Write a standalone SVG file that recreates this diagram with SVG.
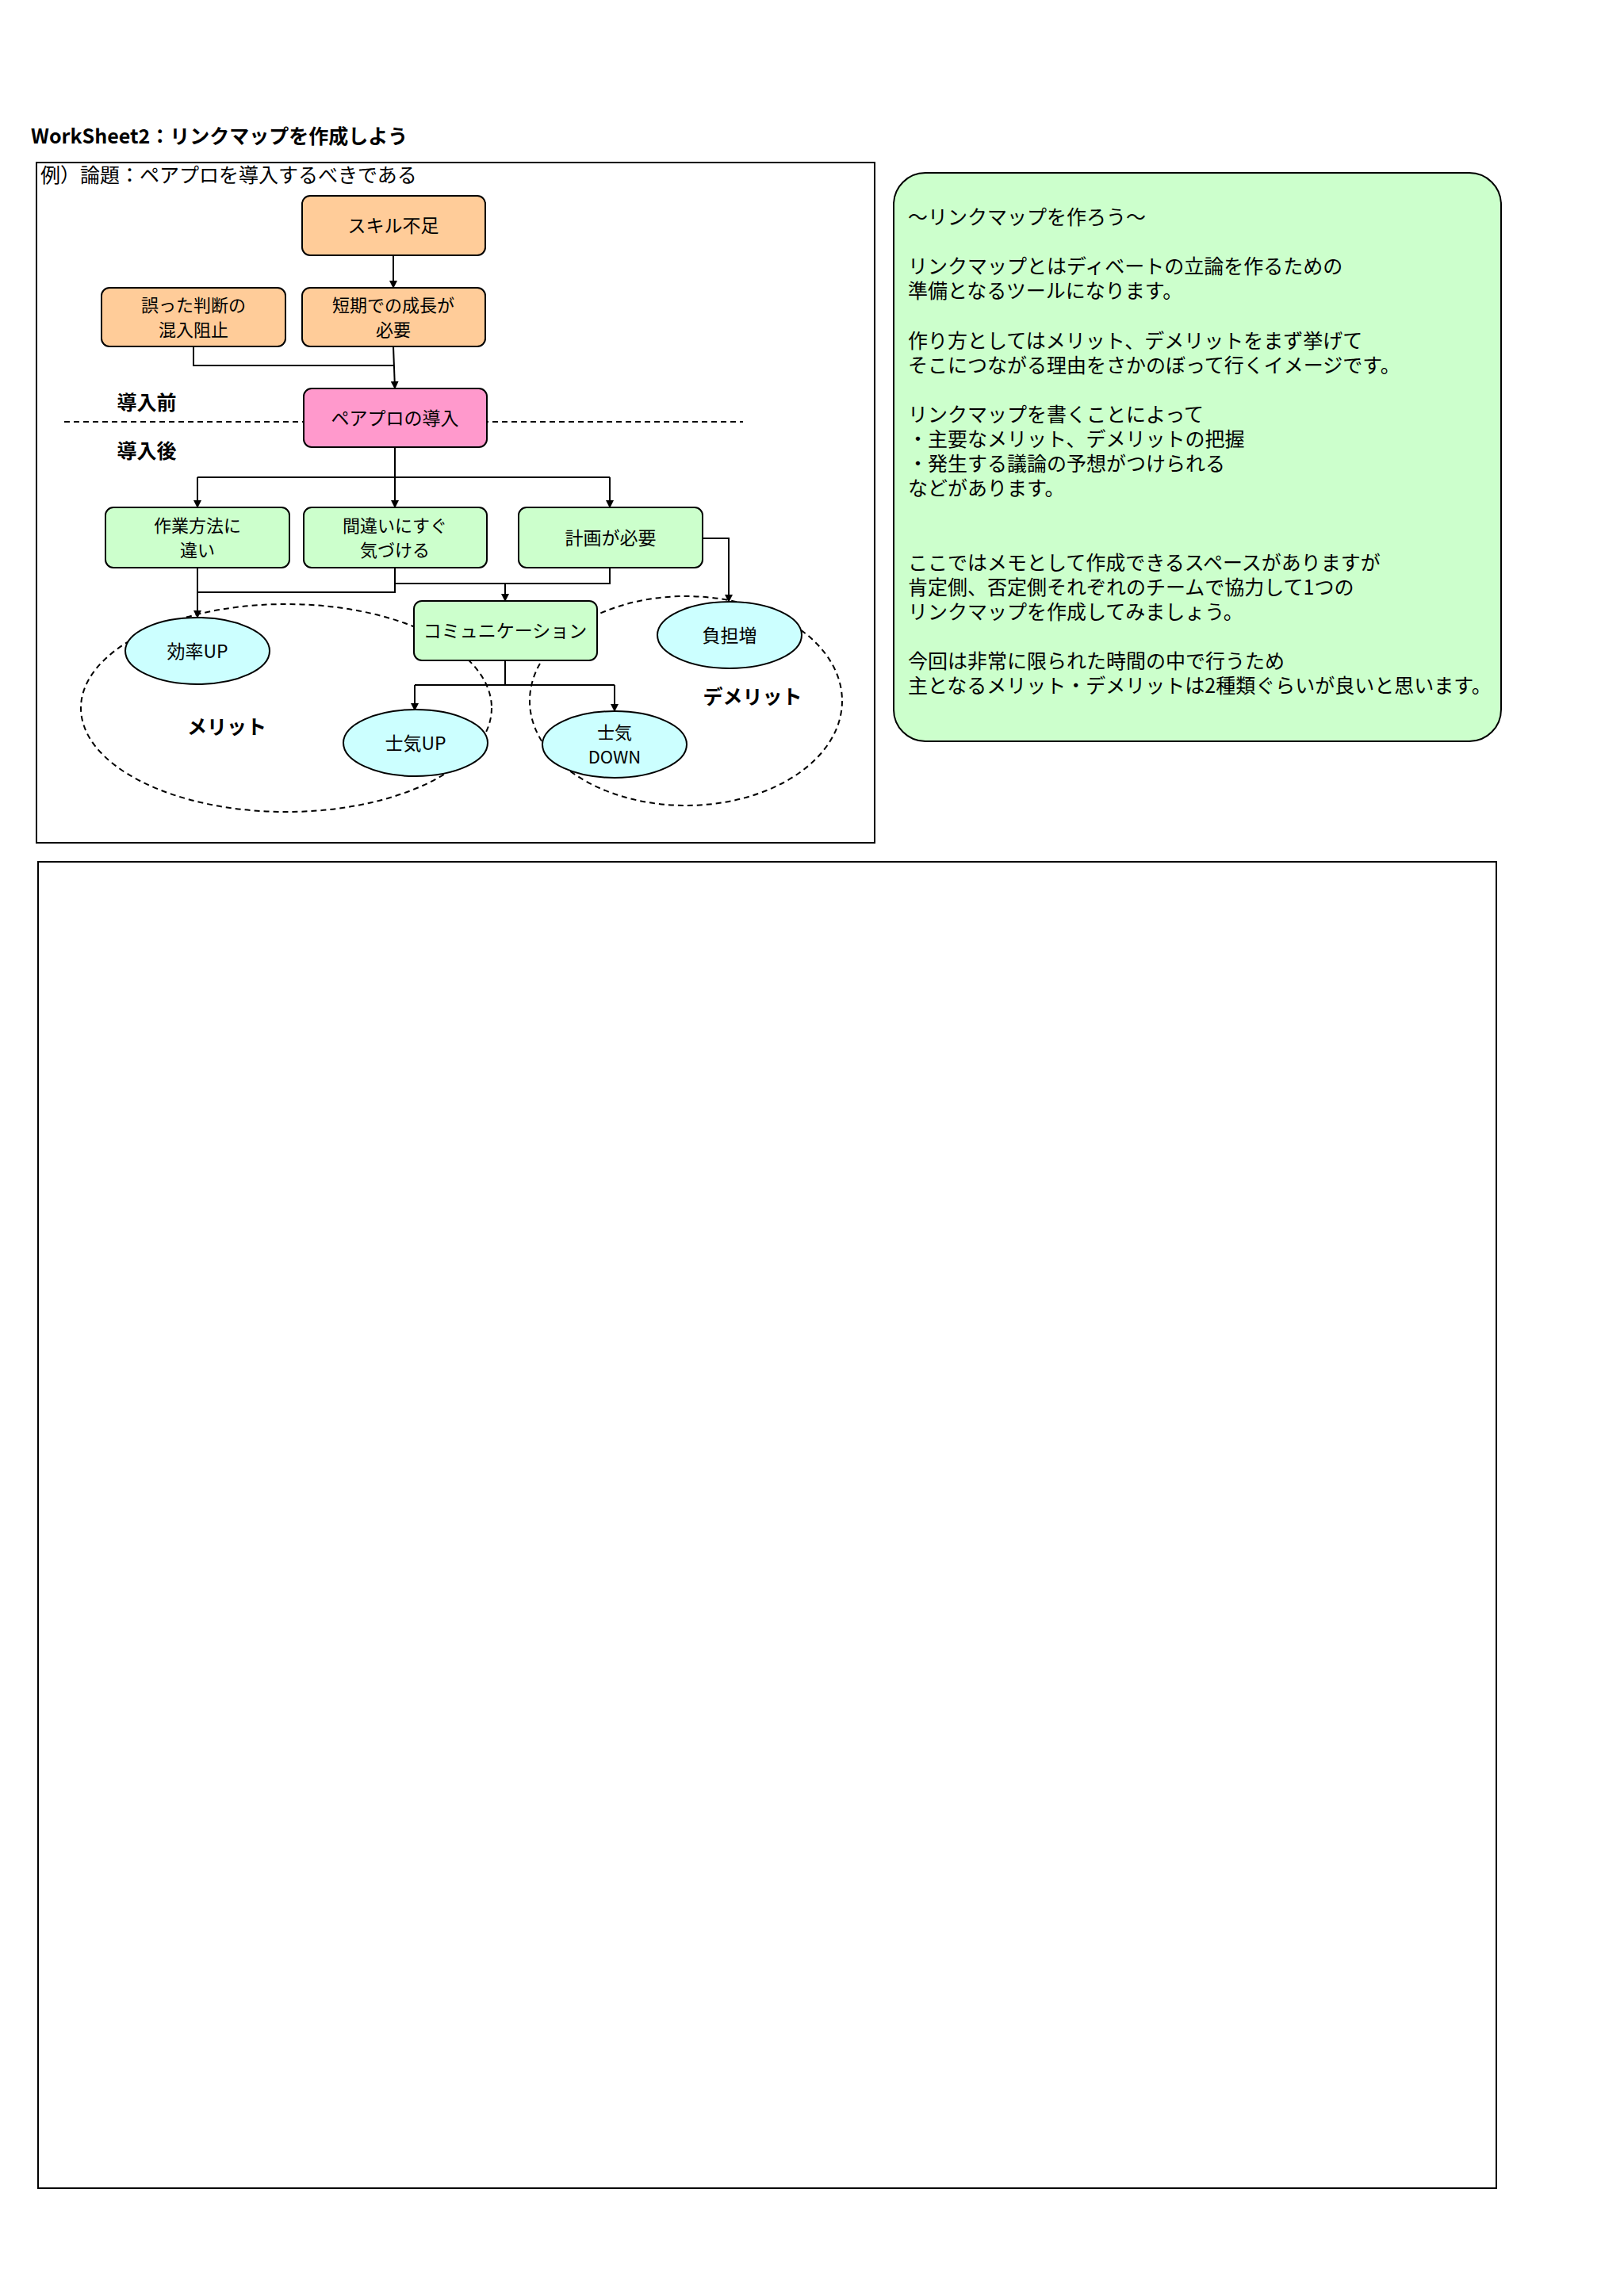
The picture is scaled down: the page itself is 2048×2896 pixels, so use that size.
<svg xmlns="http://www.w3.org/2000/svg" width="2048" height="2896" viewBox="0 0 2048 2896">
<defs>
<style>
text{font-family:"Noto Sans CJK JP","Liberation Sans",sans-serif;fill:#000}
.t{font-size:23px;text-anchor:middle}
.s{font-size:22px;text-anchor:middle}
.b{font-weight:bold}
.box{stroke:#000;stroke-width:2}
.org{fill:#FFCC99}
.grn{fill:#CCFFCC}
.cy{fill:#CCFFFF;stroke:#000;stroke-width:2}
.c{fill:none;stroke:#000;stroke-width:2}
.d{fill:none;stroke:#000;stroke-width:2;stroke-dasharray:7 5}
.m{font-size:25px}
</style>
<marker id="a" markerWidth="10" markerHeight="10" refX="9" refY="5" orient="auto" markerUnits="userSpaceOnUse" viewBox="0 0 10 10"><path d="M0,0L10,5L0,10z" fill="#000"/></marker>
</defs>
<rect width="2048" height="2896" fill="#fff"/>
<text x="39" y="181" font-size="25" class="b">WorkSheet2：リンクマップを作成しよう</text>
<rect x="46" y="205" width="1057" height="858" fill="none" stroke="#000" stroke-width="2"/>
<text x="51" y="230" font-size="25">例）論題：ペアプロを導入するべきである</text>
<g id="bg">
<ellipse cx="361" cy="893" rx="259" ry="131" class="d"/>
<ellipse cx="865" cy="884" rx="197" ry="132" class="d"/>
<line x1="81" y1="532" x2="937" y2="532" class="d"/>
</g>
<g id="connectors">
<path d="M496,322V363" class="c" marker-end="url(#a)"/>
<path d="M244,437V461H497" class="c"/>
<path d="M496,437L498,490" class="c" marker-end="url(#a)"/>
<path d="M498,564V602" class="c"/>
<path d="M249,602H769" class="c"/>
<path d="M249,602V640" class="c" marker-end="url(#a)"/>
<path d="M498,602V640" class="c" marker-end="url(#a)"/>
<path d="M769,602V640" class="c" marker-end="url(#a)"/>
<path d="M249,716V779" class="c" marker-end="url(#a)"/>
<path d="M498,716V747H249" class="c"/>
<path d="M498,736H769V716" class="c"/>
<path d="M637,736V758" class="c" marker-end="url(#a)"/>
<path d="M886,679H919V759" class="c" marker-end="url(#a)"/>
<path d="M637,833V864" class="c"/>
<path d="M523,864H775" class="c"/>
<path d="M523,864V896" class="c" marker-end="url(#a)"/>
<path d="M775,864V897" class="c" marker-end="url(#a)"/>
</g>
<g id="n1"><rect x="381" y="247" width="231" height="75" rx="10" class="box org"/><text x="496" y="293" class="t">スキル不足</text></g>
<g id="n2"><rect x="128" y="363" width="232" height="74" rx="10" class="box org"/><text x="244" y="393" class="s">誤った判断の</text><text x="244" y="424" class="s">混入阻止</text></g>
<g id="n3"><rect x="381" y="363" width="231" height="74" rx="10" class="box org"/><text x="496" y="393" class="s">短期での成長が</text><text x="496" y="424" class="s">必要</text></g>
<g id="n4"><rect x="383" y="490" width="231" height="74" rx="10" class="box" fill="#FF99CC"/><text x="498" y="536" class="t">ペアプロの導入</text></g>
<text x="185" y="517" font-size="25" class="b" text-anchor="middle">導入前</text>
<text x="185" y="578" font-size="25" class="b" text-anchor="middle">導入後</text>
<g id="n5"><rect x="133" y="640" width="232" height="76" rx="10" class="box grn"/><text x="249" y="671" class="s">作業方法に</text><text x="249" y="702" class="s">違い</text></g>
<g id="n6"><rect x="383" y="640" width="231" height="76" rx="10" class="box grn"/><text x="498" y="671" class="s">間違いにすぐ</text><text x="498" y="702" class="s">気づける</text></g>
<g id="n7"><rect x="654" y="640" width="232" height="76" rx="10" class="box grn"/><text x="770" y="687" class="t">計画が必要</text></g>
<g id="n8"><rect x="522" y="758" width="231" height="75" rx="10" class="box grn"/><text x="637" y="804" class="t">コミュニケーション</text></g>
<g id="e1"><ellipse cx="249" cy="821" rx="91" ry="42" class="cy"/><text x="249" y="830" class="t">効率UP</text></g>
<g id="e2"><ellipse cx="920" cy="801" rx="91" ry="42" class="cy"/><text x="920" y="810" class="t">負担増</text></g>
<g id="e3"><ellipse cx="524" cy="937" rx="91" ry="42" class="cy"/><text x="524" y="946" class="t">士気UP</text></g>
<g id="e4"><ellipse cx="775" cy="939" rx="91" ry="42" class="cy"/><text x="775" y="932" class="s">士気</text><text x="775" y="963" class="s">DOWN</text></g>
<text x="286" y="926" font-size="25" class="b" text-anchor="middle">メリット</text>
<text x="949" y="888" font-size="25" class="b" text-anchor="middle">デメリット</text>
<g id="note">
<rect x="1127" y="218" width="766" height="717" rx="40" fill="#CCFFCC" stroke="#000" stroke-width="2"/>
<text class="m" x="1145" y="283">～リンクマップを作ろう～</text>
<text class="m" x="1145" y="345">リンクマップとはディベートの立論を作るための</text>
<text class="m" x="1145" y="376">準備となるツールになります。</text>
<text class="m" x="1145" y="439">作り方としてはメリット、デメリットをまず挙げて</text>
<text class="m" x="1145" y="470">そこにつながる理由をさかのぼって行くイメージです。</text>
<text class="m" x="1145" y="532">リンクマップを書くことによって</text>
<text class="m" x="1145" y="563">・主要なメリット、デメリットの把握</text>
<text class="m" x="1145" y="594">・発生する議論の予想がつけられる</text>
<text class="m" x="1145" y="625">などがあります。</text>
<text class="m" x="1145" y="719">ここではメモとして作成できるスペースがありますが</text>
<text class="m" x="1145" y="750">肯定側、否定側それぞれのチームで協力して1つの</text>
<text class="m" x="1145" y="781">リンクマップを作成してみましょう。</text>
<text class="m" x="1145" y="843">今回は非常に限られた時間の中で行うため</text>
<text class="m" x="1145" y="874">主となるメリット・デメリットは2種類ぐらいが良いと思います。</text>
</g>
<rect id="memo" x="48" y="1087" width="1839" height="1673" fill="none" stroke="#000" stroke-width="2"/>
</svg>
